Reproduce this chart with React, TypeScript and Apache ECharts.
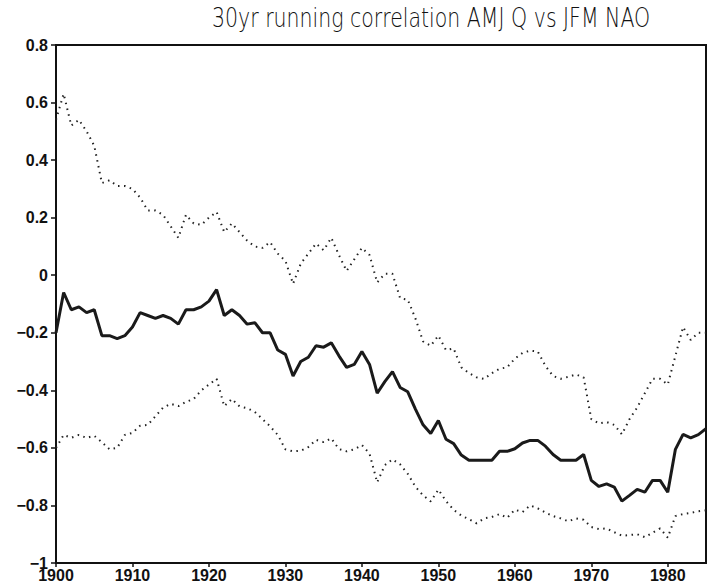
import React, { useEffect, useRef } from "react";
import * as echarts from "echarts";

const years: number[] = Array.from({ length: 86 }, (_, i) => 1900 + i);

const corr: number[] = [
  -0.2, -0.06, -0.12, -0.11, -0.13, -0.12, -0.21, -0.21, -0.22, -0.21,
  -0.18, -0.13, -0.14, -0.15, -0.14, -0.15, -0.17, -0.12, -0.12, -0.11,
  -0.09, -0.05, -0.14, -0.12, -0.14, -0.17, -0.165, -0.2, -0.2, -0.26,
  -0.275, -0.35, -0.3, -0.285, -0.245, -0.25, -0.235, -0.28, -0.32, -0.31,
  -0.265, -0.31, -0.41, -0.37, -0.335, -0.39, -0.405, -0.465, -0.52, -0.55,
  -0.505, -0.57, -0.585, -0.625, -0.643, -0.643, -0.643, -0.643, -0.612, -0.612,
  -0.603, -0.583, -0.574, -0.574, -0.594, -0.623, -0.643, -0.643, -0.643, -0.623,
  -0.713, -0.734, -0.725, -0.736, -0.785, -0.765, -0.744, -0.754, -0.713, -0.713,
  -0.754, -0.605, -0.553, -0.565, -0.554, -0.533,
];

const upper: number[] = [
  0.54, 0.63, 0.52, 0.54, 0.5, 0.45, 0.32, 0.33, 0.31, 0.31,
  0.3, 0.27, 0.225, 0.225, 0.21, 0.17, 0.13, 0.21, 0.18, 0.175,
  0.2, 0.22, 0.15, 0.18, 0.15, 0.12, 0.1, 0.095, 0.115, 0.075,
  0.05, -0.03, 0.04, 0.075, 0.11, 0.087, 0.13, 0.07, 0.015, 0.055,
  0.095, 0.07, -0.025, 0.005, 0.005, -0.08, -0.085, -0.15, -0.23, -0.245,
  -0.21, -0.26, -0.255, -0.32, -0.34, -0.355, -0.36, -0.34, -0.325, -0.32,
  -0.29, -0.27, -0.262, -0.265, -0.315, -0.35, -0.36, -0.353, -0.345, -0.355,
  -0.5, -0.515, -0.51, -0.52, -0.553, -0.5, -0.46, -0.41, -0.36, -0.36,
  -0.38, -0.28, -0.18, -0.225, -0.2, -0.2,
];

const lower: number[] = [
  -0.6, -0.555, -0.565, -0.555, -0.565, -0.558, -0.58, -0.605, -0.6, -0.555,
  -0.548, -0.523, -0.52, -0.49, -0.46, -0.447, -0.455, -0.44, -0.43, -0.4,
  -0.38, -0.36, -0.455, -0.43, -0.456, -0.462, -0.475, -0.5, -0.525, -0.555,
  -0.605, -0.612, -0.61, -0.597, -0.572, -0.58, -0.567, -0.604, -0.612, -0.605,
  -0.59, -0.62, -0.72, -0.66, -0.64, -0.657, -0.69, -0.735, -0.765, -0.786,
  -0.745, -0.785, -0.815, -0.835, -0.848, -0.862, -0.845, -0.84, -0.83, -0.843,
  -0.815, -0.823, -0.8, -0.81, -0.825, -0.837, -0.845, -0.855, -0.845, -0.85,
  -0.875, -0.882, -0.88, -0.893, -0.905, -0.903, -0.9, -0.91, -0.895, -0.88,
  -0.912, -0.837, -0.83, -0.826, -0.82, -0.817,
];

const titleText = "30yr running correlation AMJ Q vs JFM NAO";

const pair = (vals: number[]) => years.map((y, i) => [y, vals[i]]);

export default function App() {
  const ref = useRef<HTMLDivElement>(null);
  useEffect(() => {
    if (!ref.current) return;
    const chart = echarts.init(ref.current, undefined, { renderer: "svg" });
    const labelFont = {
      color: "#111",
      fontFamily: "Liberation Sans, Arial, sans-serif",
      fontSize: 16,
      fontWeight: "bold" as const,
    };
    chart.setOption({
      animation: false,
      backgroundColor: "#ffffff",
      graphic: [
        {
          type: "text",
          x: 212,
          y: 4,
          scaleY: 1.3,
          style: {
            text: titleText,
            fontFamily: "DejaVu Sans",
            fontWeight: 200,
            fontSize: 20.5,
            fill: "#111",
            textAlign: "left",
            textVerticalAlign: "top",
          },
        },
      ],
      grid: {
        left: 56,
        right: 6,
        top: 45,
        bottom: 22,
        show: true,
        borderColor: "#111",
        borderWidth: 2,
        backgroundColor: "transparent",
      },
      xAxis: {
        type: "value",
        min: 1900,
        max: 1985,
        interval: 10,
        splitLine: { show: false },
        axisLine: { show: true, onZero: false, lineStyle: { color: "#111", width: 2 } },
        axisTick: { show: true, inside: false, length: 4, lineStyle: { color: "#111", width: 1.5 } },
        axisLabel: {
          ...labelFont,
          margin: 4,
          showMaxLabel: false,
          formatter: (v: number) => String(v),
        },
      },
      yAxis: {
        type: "value",
        min: -1,
        max: 0.8,
        interval: 0.2,
        splitLine: { show: false },
        axisLine: { show: true, onZero: false, lineStyle: { color: "#111", width: 2 } },
        axisTick: { show: true, inside: false, length: 5, lineStyle: { color: "#111", width: 1.5 } },
        axisLabel: {
          ...labelFont,
          margin: 8,
          formatter: (v: number) => String(Math.round(v * 10) / 10).replace("-", "\u2212"),
        },
      },
      series: [
        {
          name: "upper",
          type: "line",
          data: pair(upper),
          showSymbol: false,
          lineStyle: { color: "#222", width: 2, type: [1.5, 4.5], cap: "butt" },
        },
        {
          name: "lower",
          type: "line",
          data: pair(lower),
          showSymbol: false,
          lineStyle: { color: "#222", width: 2, type: [1.5, 4.5], cap: "butt" },
        },
        {
          name: "corr",
          type: "line",
          data: pair(corr),
          showSymbol: false,
          lineStyle: { color: "#1a1a1a", width: 3 },
        },
      ],
    });
    return () => chart.dispose();
  }, []);
  return <div ref={ref} style={{ width: 712, height: 585, position: "absolute", left: 0, top: 0 }} />;
}
